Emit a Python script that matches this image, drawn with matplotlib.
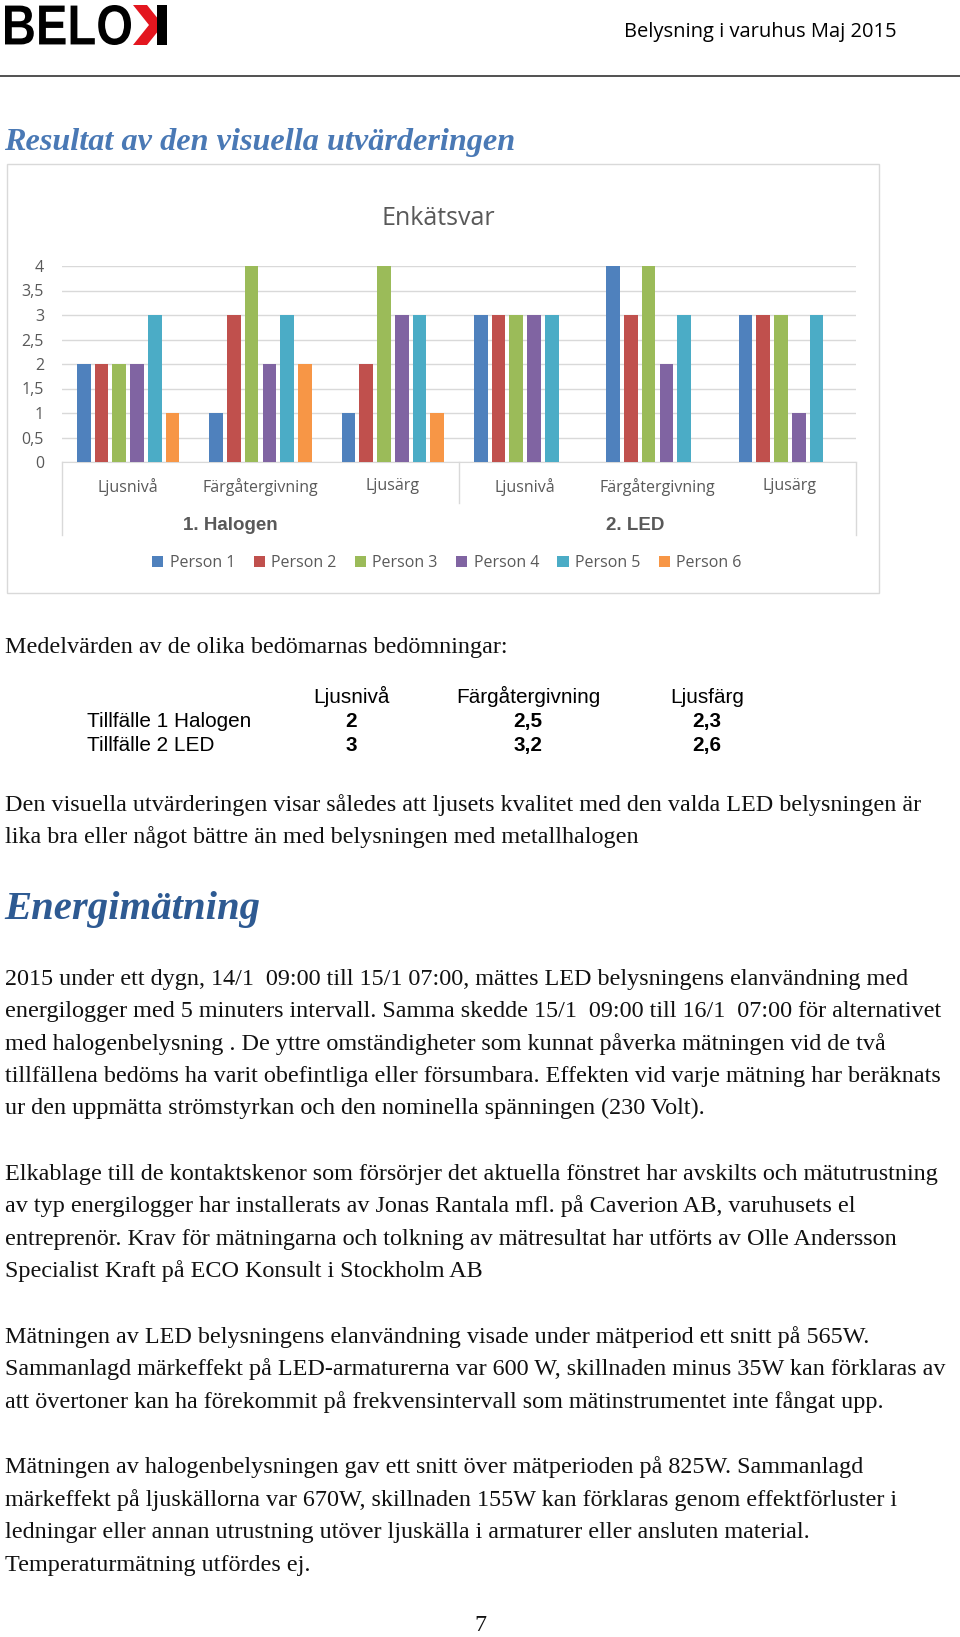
import matplotlib
matplotlib.use('Agg')
import numpy as np
import matplotlib.pyplot as plt
import matplotlib.patches as patches
from matplotlib import font_manager
from matplotlib.font_manager import FontProperties
from matplotlib.textpath import TextPath
from matplotlib.transforms import blended_transform_factory, Affine2D

plt.rcParams['font.family'] = ['Open Sans', 'DejaVu Sans']

W_PX, H_PX, DPI = 960, 1637, 100

# ---------------- data ----------------
personer = ['Person 1', 'Person 2', 'Person 3', 'Person 4', 'Person 5', 'Person 6']
kategorier = ['Ljusnivå', 'Färgåtergivning', 'Ljusärg', 'Ljusnivå', 'Färgåtergivning', 'Ljusärg']
grupper = ['1. Halogen', '2. LED']
person_1 = [2, 1, 1, 3, 4, 3]
person_2 = [2, 3, 2, 3, 3, 3]
person_3 = [2, 4, 4, 3, 4, 3]
person_4 = [2, 2, 3, 3, 2, 1]
person_5 = [3, 3, 3, 3, 3, 3]
person_6 = [1, 2, 1, 0, 0, 0]
serier = [person_1, person_2, person_3, person_4, person_5, person_6]
farger = ['#4F81BD', '#C0504D', '#9BBB59', '#8064A2', '#4BACC6', '#F79646']
y_ticks = [0, 0.5, 1, 1.5, 2, 2.5, 3, 3.5, 4]

tabell_kolumner = ['Ljusnivå', 'Färgåtergivning', 'Ljusfärg']
tabell_rader = ['Tillfälle 1 Halogen', 'Tillfälle 2 LED']
tabell_varden = [['2', '2,5', '2,3'], ['3', '3,2', '2,6']]

slutsats = ['Den visuella utvärderingen visar således att ljusets kvalitet med den valda LED belysningen är',
            'lika bra eller något bättre än med belysningen med metallhalogen']
stycke_1 = ['2015 under ett dygn, 14/1  09:00 till 15/1 07:00, mättes LED belysningens elanvändning med',
            'energilogger med 5 minuters intervall. Samma skedde 15/1  09:00 till 16/1  07:00 för alternativet',
            'med halogenbelysning . De yttre omständigheter som kunnat påverka mätningen vid de två',
            'tillfällena bedöms ha varit obefintliga eller försumbara. Effekten vid varje mätning har beräknats',
            'ur den uppmätta strömstyrkan och den nominella spänningen (230 Volt).']
stycke_2 = ['Elkablage till de kontaktskenor som försörjer det aktuella fönstret har avskilts och mätutrustning',
            'av typ energilogger har installerats av Jonas Rantala mfl. på Caverion AB, varuhusets el',
            'entreprenör. Krav för mätningarna och tolkning av mätresultat har utförts av Olle Andersson',
            'Specialist Kraft på ECO Konsult i Stockholm AB']
stycke_3 = ['Mätningen av LED belysningens elanvändning visade under mätperiod ett snitt på 565W.',
            'Sammanlagd märkeffekt på LED-armaturerna var 600 W, skillnaden minus 35W kan förklaras av',
            'att övertoner kan ha förekommit på frekvensintervall som mätinstrumentet inte fångat upp.']
stycke_4 = ['Mätningen av halogenbelysningen gav ett snitt över mätperioden på 825W. Sammanlagd',
            'märkeffekt på ljuskällorna var 670W, skillnaden 155W kan förklaras genom effektförluster i',
            'ledningar eller annan utrustning utöver ljuskälla i armaturer eller ansluten material.',
            'Temperaturmätning utfördes ej.']

# ---------------- page ----------------
namn = set(f.name for f in font_manager.fontManager.ttflist)
narrow = 'Liberation Sans Narrow' if 'Liberation Sans Narrow' in namn else 'Liberation Sans'
serif = 'Liberation Serif'

fig = plt.figure(figsize=(W_PX / DPI, H_PX / DPI), dpi=DPI)
bg = fig.add_axes([0, 0, 1, 1])
bg.set_xlim(0, W_PX)
bg.set_ylim(H_PX, 0)
bg.axis('off')
renderer = fig.canvas.get_renderer()

def fit_size(txt, width, **kw):
    t = bg.text(0, 0, txt, fontsize=20, **kw)
    w = t.get_window_extent(renderer).width
    t.remove()
    return 20 * width / w

# logo: squeezed bold letters + red chevron and black stem
tp = TextPath((0, 0), 'BELO', size=100, prop=FontProperties(family='Liberation Sans', weight='bold'))
ext = tp.get_extents()
logo = tp.transformed(Affine2D().translate(-ext.x0, -ext.y0)
                      .scale(126 / ext.width, -40 / ext.height).translate(5, 45))
bg.add_patch(patches.PathPatch(logo, facecolor='k', edgecolor='none'))
bg.add_patch(patches.Polygon([(133, 5), (147, 5), (163, 25), (147, 45), (133, 45), (149, 25)], closed=True,
                             facecolor='#e3161f', edgecolor='none'))
bg.add_patch(patches.Rectangle((157, 5), 10, 40, facecolor='k', edgecolor='none'))

# header
fs = fit_size('Belysning i varuhus Maj 2015', 273, family='Open Sans')
bg.text(897, 37, 'Belysning i varuhus Maj 2015', fontsize=fs, family='Open Sans', ha='right', va='baseline')
bg.plot([0, W_PX], [76, 76], color='#333333', lw=1.2)

# headings
fs = fit_size('Resultat av den visuella utvärderingen', 510, family=serif, fontweight='bold', style='italic')
bg.text(4, 150, 'Resultat av den visuella utvärderingen', fontsize=fs, family=serif, fontweight='bold',
        style='italic', color='#4a79b5', va='baseline')
fs = fit_size('Energimätning', 256, family=serif, fontweight='bold', style='italic')
bg.text(4, 919, 'Energimätning', fontsize=fs, family=serif, fontweight='bold', style='italic',
        color='#2e5a92', va='baseline')

# chart frame
bg.add_patch(patches.Rectangle((7, 164), 872, 429, facecolor='none', edgecolor='#d9d9d9', lw=1))
bg.text(438, 225, 'Enkätsvar', fontsize=18, color='#595959', ha='center', va='baseline')

# chart
ax = fig.add_axes([62 / W_PX, 1 - 462 / H_PX, (856 - 62) / W_PX, (462 - 266) / H_PX])
x = np.arange(len(kategorier))
slot, bw = 0.1338, 0.1035
for i, (vals, c) in enumerate(zip(serier, farger)):
    ax.bar(x + (i - 2.5) * slot, vals, width=bw, color=c, zorder=3, label=personer[i])
ax.set_xlim(-0.5, 5.5)
ax.set_ylim(0, 4)
ax.set_yticks(y_ticks)
ax.set_yticklabels([('%g' % v).replace('.', ',') for v in y_ticks])
ax.set_xticks(x)
ax.set_xticklabels(kategorier)
ax.yaxis.grid(True, color='#d9d9d9', lw=1)
ax.set_axisbelow(True)
for s in ax.spines.values():
    s.set_visible(False)
ax.spines['bottom'].set_visible(True)
ax.spines['bottom'].set_color('#d9d9d9')
ax.tick_params(axis='y', length=0, pad=13, labelcolor='#595959', labelsize=11.5)
ax.tick_params(axis='x', length=0, pad=11.5, labelcolor='#595959', labelsize=11.5)

trans = blended_transform_factory(ax.transData, ax.transAxes)
for xv, y1 in [(-0.5, -0.372), (2.5, -0.209), (5.5, -0.372)]:
    ax.plot([xv, xv], [0, y1], transform=trans, clip_on=False, color='#d9d9d9', lw=1)
for xv, g in zip([0.77, 3.83], grupper):
    ax.text(xv, -0.325, g, transform=trans, ha='center', va='center', family='Liberation Sans',
            fontweight='bold', fontsize=13.5, color='#595959')

handles = [patches.Patch(facecolor=c, label=p) for c, p in zip(farger, personer)]
fig.legend(handles=handles, loc='center', bbox_to_anchor=(447 / W_PX, 1 - 563 / H_PX), ncol=6,
           frameon=False, handlelength=0.7, handleheight=0.7, handletextpad=0.4, columnspacing=1.15,
           prop={'family': 'Open Sans', 'size': 11.5}, labelcolor='#595959')

# body text
body = fit_size(slutsats[0], 913, family=serif)

def rader(lines, y0, dy=32.3):
    for k, s in enumerate(lines):
        bg.text(5, y0 + k * dy + 6, s, fontsize=body, family=serif, color='#111111', va='baseline')

rader(['Medelvärden av de olika bedömarnas bedömningar:'], 647)
rader(slutsats, 804.5)
rader(stycke_1, 979)
rader(stycke_2, 1174)
rader(stycke_3, 1337)
rader(stycke_4, 1467, 32.7)
bg.text(480, 1631, '7', fontsize=body, family=serif, ha='center', va='baseline', color='#111111')

# table
tfs = fit_size(tabell_rader[0], 164, family=narrow)
kol_x = [351, 528, 707]
for cx, k in zip(kol_x, tabell_kolumner):
    bg.text(cx, 703, k, fontsize=tfs, family=narrow, ha='center', va='baseline')
for r, (rad, vals) in enumerate(zip(tabell_rader, tabell_varden)):
    yb = 727 + r * 24
    bg.text(87, yb, rad, fontsize=tfs, family=narrow, va='baseline')
    for cx, v in zip(kol_x, vals):
        bg.text(cx, yb, v, fontsize=tfs, family=narrow, fontweight='bold', ha='center', va='baseline')

fig.savefig('out.png', dpi=DPI)
